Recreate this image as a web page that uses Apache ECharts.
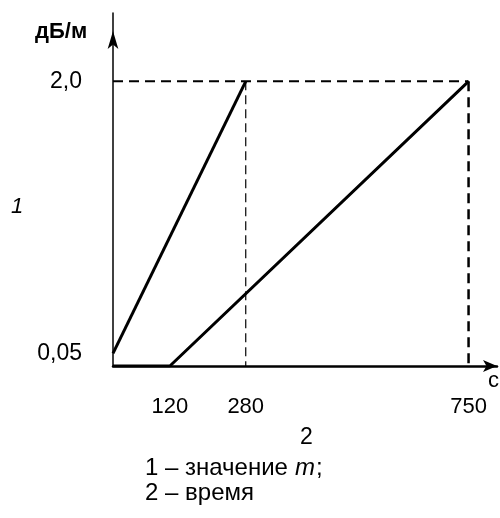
<!DOCTYPE html>
<html>
<head>
<meta charset="utf-8">
<script src="https://cdn.jsdelivr.net/npm/echarts@6/dist/echarts.min.js"></script>
<style>html,body{margin:0;padding:0;background:#fff}#c{width:500px;height:518px}</style>
</head>
<body>
<div id="c"></div>
<script>
// Data
var xTickValues = [120, 280, 750];
var xTickLabels = ['120', '280', '750'];
var yTickValues = [0.05, 2.0];
var yTickLabels = ['0,05', '2,0'];
var yAxisMin = -0.04;
var line1X = [0, 280];
var line1Y = [0.05, 2.0];
var line2X = [0, 120, 750];
var line2Y = [-0.04, -0.04, 2.0];
var guideH_X = [0, 750];
var guideH_Y = [2.0, 2.0];
var guide280_X = [280, 280];
var guide280_Y = [2.0, -0.04];
var guide750_X = [750, 750];
var guide750_Y = [2.0, -0.04];

function zip(a, b) { return a.map(function (v, i) { return [v, b[i]]; }); }

var FONT = 'Liberation Sans, Arial, sans-serif';
var chart = echarts.init(document.getElementById('c'), null, { renderer: 'canvas' });
chart.setOption({
  animation: false,
  grid: { left: 113, right: 3, top: 13, bottom: 152 },
  xAxis: {
    type: 'value', min: 0, max: 810,
    splitLine: { show: false },
    axisLine: { show: true, onZero: false, lineStyle: { color: '#000', width: 2.5 }, symbol: ['none', 'arrow'], symbolSize: [9, 14] },
    axisTick: { show: false },
    axisLabel: {
      customValues: xTickValues,
      formatter: function (v) { var i = xTickValues.indexOf(v); return i >= 0 ? xTickLabels[i] : ''; },
      color: '#000', fontFamily: FONT, fontSize: 22, margin: 30
    }
  },
  yAxis: {
    type: 'value', min: yAxisMin, max: 2.49,
    splitLine: { show: false },
    axisLine: { show: true, onZero: false, lineStyle: { color: '#000', width: 1.5 }, symbol: ['none', 'arrow'], symbolSize: [8, 18], symbolOffset: [0, -18] },
    axisTick: { show: false },
    axisLabel: {
      customValues: yTickValues,
      formatter: function (v) { var i = yTickValues.indexOf(v); return i >= 0 ? yTickLabels[i] : ''; },
      color: '#000', fontFamily: FONT, fontSize: 23, margin: 31
    }
  },
  series: [
    { type: 'line', data: zip(guideH_X, guideH_Y), symbol: 'none', lineStyle: { color: '#000', width: 2, type: [10, 6] } },
    { type: 'line', data: zip(guide280_X, guide280_Y), symbol: 'none', lineStyle: { color: '#000', width: 1.2, type: [9, 5] } },
    { type: 'line', data: zip(guide750_X, guide750_Y), symbol: 'none', lineStyle: { color: '#000', width: 2.5, type: [10, 6] } },
    { type: 'line', data: zip(line1X, line1Y), symbol: 'none', lineStyle: { color: '#000', width: 3 } },
    { type: 'line', data: zip(line2X, line2Y), symbol: 'none', lineStyle: { color: '#000', width: 3 } }
  ],
  graphic: [
    { type: 'text', style: { x: 35, y: 32, text: 'дБ/м', font: 'bold 22px ' + FONT, fill: '#000', verticalAlign: 'middle' } },
    { type: 'text', style: { x: 488, y: 381, text: 'с', font: '22px ' + FONT, fill: '#000', verticalAlign: 'middle' } },
    { type: 'text', style: { x: 11, y: 207, text: '1', font: 'italic 22px ' + FONT, fill: '#000', verticalAlign: 'middle' } },
    { type: 'text', style: { x: 300, y: 438, text: '2', font: '23px ' + FONT, fill: '#000', verticalAlign: 'middle' } },
    { type: 'text', style: { x: 145, y: 468, text: '1 – значение', font: '24px ' + FONT, fill: '#000', verticalAlign: 'middle' } },
    { type: 'text', style: { x: 295, y: 468, text: 'm', font: 'italic 24px ' + FONT, fill: '#000', verticalAlign: 'middle' } },
    { type: 'text', style: { x: 316, y: 468, text: ';', font: '24px ' + FONT, fill: '#000', verticalAlign: 'middle' } },
    { type: 'text', style: { x: 145, y: 493, text: '2 – время', font: '24px ' + FONT, fill: '#000', verticalAlign: 'middle' } }
  ]
});
</script>
</body>
</html>
